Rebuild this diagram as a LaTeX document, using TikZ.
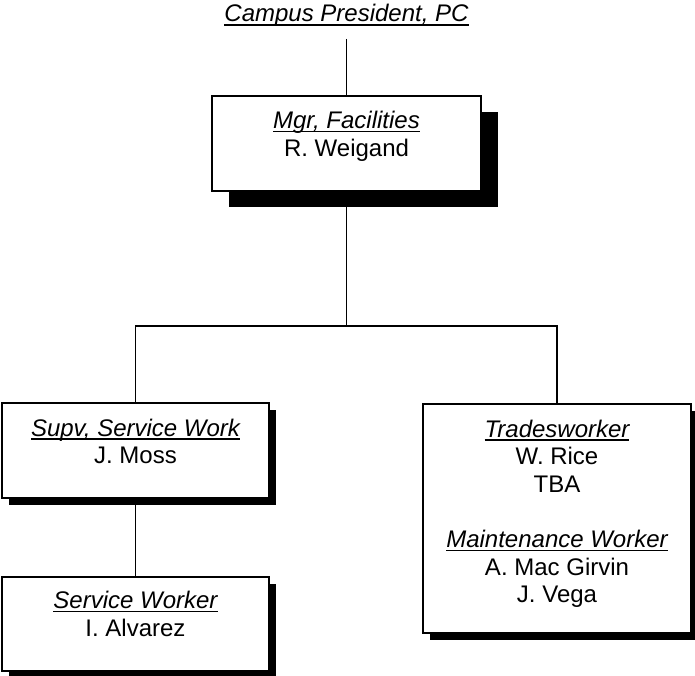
\documentclass[tikz,border=0pt]{standalone}
\usepackage{fontspec}
\setmainfont{Liberation Sans}
\usetikzlibrary{shadows}
\newcommand\ttl[1]{\setbox0\hbox{\itshape #1}\rlap{\rule[-3.8pt]{\wd0}{1.5pt}}\box0}
\newcommand\lines[1]{\vtop{\halign{\hfil##\hfil\cr#1\crcr}}}
\begin{document}
\begin{tikzpicture}[x=1pt,y=-1pt,
  every node/.style={font=\fontsize{24}{27.6}\selectfont},
  box/.style={draw=black, line width=1.5pt, fill=white, inner sep=0pt, outer sep=0pt, rectangle},
  bigshadow/.style={drop shadow={shadow xshift=16.5pt, shadow yshift=-16pt, opacity=1, fill=black}},
  smallshadow/.style={drop shadow={shadow xshift=7pt, shadow yshift=-7pt, opacity=1, fill=black}},
  txt/.style={anchor=base, inner sep=0pt},
  conn/.style={line width=1.6pt}]
\useasboundingbox (0,0) rectangle (695,676);

\node[anchor=base, inner sep=0pt, outer ysep=12pt] (pres) at (346.5,22) {\ttl{Campus President, PC}};

\node[box, bigshadow, minimum width=269pt, minimum height=95pt] (mgr) at (346.5,143.5) {};
\node[txt] (mgrtxt) at ([yshift=-32.5pt]mgr.north) {\lines{\ttl{Mgr, Facilities}\cr R. Weigand}};

\node[box, smallshadow, minimum width=267pt, minimum height=95pt] (supv) at (135.5,450.5) {};
\node[txt] (supvtxt) at ([yshift=-33pt]supv.north) {\lines{\ttl{Supv, Service Work}\cr J. Moss}};

\node[box, smallshadow, minimum width=267pt, minimum height=94pt] (svc) at (135.5,624) {};
\node[txt] (svctxt) at ([yshift=-31.5pt]svc.north) {\lines{\ttl{Service Worker}\cr I. Alvarez}};

\node[box, smallshadow, minimum width=268pt, minimum height=229pt] (trades) at (557,518.5) {};
\node[txt] (tradestxt) at ([yshift=-33pt]trades.north) {\lines{\ttl{Tradesworker}\cr W. Rice\cr TBA\cr\cr \ttl{Maintenance Worker}\cr A. Mac Girvin\cr J. Vega}};

\coordinate (bus) at (346.5,326);
\draw[conn] (pres.south) -- (mgr.north);
\draw[conn] (mgr.south) -- (bus);
\draw[conn] (supv.north) |- (bus) -| (trades.north);
\draw[conn] (supv.south) -- (svc.north);
\end{tikzpicture}
\end{document}
